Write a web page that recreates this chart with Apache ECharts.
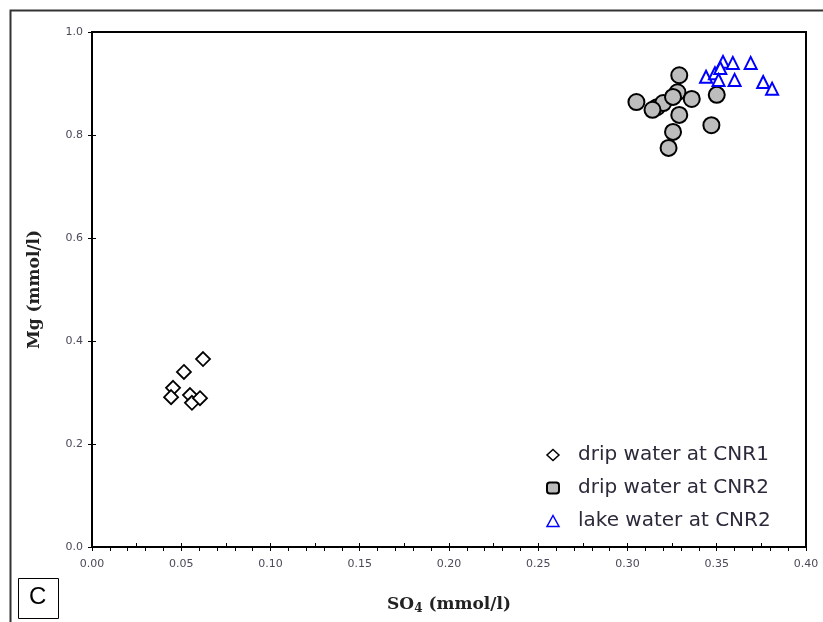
<!DOCTYPE html>
<html>
<head>
<meta charset="utf-8">
<script src="https://cdn.jsdelivr.net/npm/echarts@6/dist/echarts.min.js"></script>
<style>html,body{margin:0;padding:0;background:#fff}#c{width:823px;height:622px}</style>
</head>
<body>
<div id="c"></div>
<script>
// Data (SO4 mmol/l, Mg mmol/l)
var cnr1Drip = [
  [0.0622, 0.365], [0.0515, 0.340], [0.0454, 0.309], [0.0443, 0.291],
  [0.0549, 0.295], [0.0560, 0.280], [0.0605, 0.289]
];
var cnr2Drip = [
  [0.329, 0.916], [0.305, 0.864], [0.3165, 0.854], [0.320, 0.862],
  [0.328, 0.883], [0.3255, 0.874], [0.336, 0.870], [0.329, 0.839],
  [0.3255, 0.806], [0.323, 0.775], [0.350, 0.878], [0.347, 0.819],
  [0.314, 0.849]
];
var cnr2Lake = [
  [0.3535, 0.942], [0.359, 0.940], [0.369, 0.940], [0.344, 0.913],
  [0.349, 0.920], [0.352, 0.930], [0.351, 0.907], [0.360, 0.907],
  [0.376, 0.903], [0.381, 0.890]
];
var seriesNames = ['drip water at CNR1', 'drip water at CNR2', 'lake water at CNR2'];
var xTicks = [0, 0.05, 0.10, 0.15, 0.20, 0.25, 0.30, 0.35, 0.40];
var yTicks = [0, 0.2, 0.4, 0.6, 0.8, 1.0];

var chart = echarts.init(document.getElementById('c'));
var labelStyle = {color: '#4a4a5a', fontSize: 11, fontFamily: 'DejaVu Sans, sans-serif'};
var serif = 'DejaVu Serif, serif';
var option = {
  animation: false,
  backgroundColor: '#fff',
  grid: {left: 92, right: 17, top: 32, bottom: 75, show: true, borderColor: '#000', borderWidth: 2},
  xAxis: [{
    type: 'value', min: xTicks[0], max: xTicks[xTicks.length - 1], interval: 0.05,
    position: 'bottom',
    axisLine: {show: true, lineStyle: {color: '#000', width: 2}},
    axisTick: {inside: true, length: 4, lineStyle: {color: '#000', width: 1}},
    minorTick: {show: true, splitNumber: 2, length: 4, lineStyle: {color: '#000', width: 1}},
    splitLine: {show: false},
    axisLabel: Object.assign({margin: 12, formatter: function (v) { return v.toFixed(2); }}, labelStyle),
    name: '{a|SO}{s|4}{a| (mmol/l)}', nameLocation: 'middle', nameGap: 48,
    nameTextStyle: {rich: {
      a: {fontFamily: serif, fontWeight: 'bold', fontSize: 17, color: '#222'},
      s: {fontFamily: serif, fontWeight: 'bold', fontSize: 12, color: '#222', padding: [8, 0, 0, 0]}
    }}
  }, {
    type: 'value', min: 0, max: 0.4, interval: 0.01, position: 'top',
    axisLine: {show: true, lineStyle: {color: '#000', width: 2}},
    axisTick: {inside: true, length: 4, lineStyle: {color: '#000', width: 1}},
    axisLabel: {show: false}, splitLine: {show: false}
  }],
  yAxis: [{
    type: 'value', min: yTicks[0], max: yTicks[yTicks.length - 1], interval: 0.2,
    axisLine: {show: true, lineStyle: {color: '#000', width: 2}},
    axisTick: {show: true, inside: true, length: 4, lineStyle: {color: '#000', width: 1}},
    splitLine: {show: false},
    axisLabel: Object.assign({margin: 9, formatter: function (v) { return v.toFixed(1); }}, labelStyle),
    name: 'Mg (mmol/l)', nameLocation: 'middle', nameGap: 49,
    nameTextStyle: {fontFamily: serif, fontWeight: 'bold', fontSize: 17, color: '#222'}
  }, {
    type: 'value', min: 0, max: 1, interval: 0.2, position: 'right',
    axisLine: {show: true, lineStyle: {color: '#000', width: 2}},
    axisTick: {show: true, inside: true, length: 4, lineStyle: {color: '#000', width: 1}},
    axisLabel: {show: false}, splitLine: {show: false}
  }],
  legend: {
    orient: 'vertical', left: 541, top: 440, itemGap: 13, itemWidth: 12, itemHeight: 11,
    textStyle: {fontSize: 20, color: '#2a2a3a', fontFamily: 'DejaVu Sans, sans-serif', padding: [0, 0, 0, 14]},
    data: [
      {name: seriesNames[0], icon: 'diamond', itemStyle: {color: '#fff', borderColor: '#000', borderWidth: 1.5}},
      {name: seriesNames[1], icon: 'roundRect', itemStyle: {color: '#bbb', borderColor: '#000', borderWidth: 2}},
      {name: seriesNames[2], icon: 'triangle', itemStyle: {color: '#fff', borderColor: '#00f', borderWidth: 1.5}}
    ]
  },
  series: [
    {name: seriesNames[0], type: 'scatter', data: cnr1Drip, symbol: 'diamond', symbolSize: 14,
     itemStyle: {color: '#fff', borderColor: '#000', borderWidth: 1.8, opacity: 1}},
    {name: seriesNames[1], type: 'scatter', data: cnr2Drip, symbol: 'circle', symbolSize: 16,
     itemStyle: {color: '#bdbdbd', borderColor: '#000', borderWidth: 2, opacity: 1}},
    {name: seriesNames[2], type: 'scatter', data: cnr2Lake, symbol: 'triangle', symbolSize: 12,
     itemStyle: {color: '#fff', borderColor: '#0000ff', borderWidth: 2, opacity: 1}}
  ],
  graphic: [
    {type: 'rect', left: 8, top: 8, shape: {x: 0, y: 0, width: 900, height: 700}, style: {fill: 'none', stroke: '#333', lineWidth: 2}, z: -1},
    {type: 'rect', left: 18, top: 578, shape: {x: 0, y: 0, width: 40, height: 40}, style: {fill: '#fff', stroke: '#000', lineWidth: 1}},
    {type: 'text', left: 29, top: 585, style: {text: 'C', font: '24px Liberation Sans, Arial, sans-serif', fill: '#000'}}
  ]
};
chart.setOption(option);
</script>
</body>
</html>
